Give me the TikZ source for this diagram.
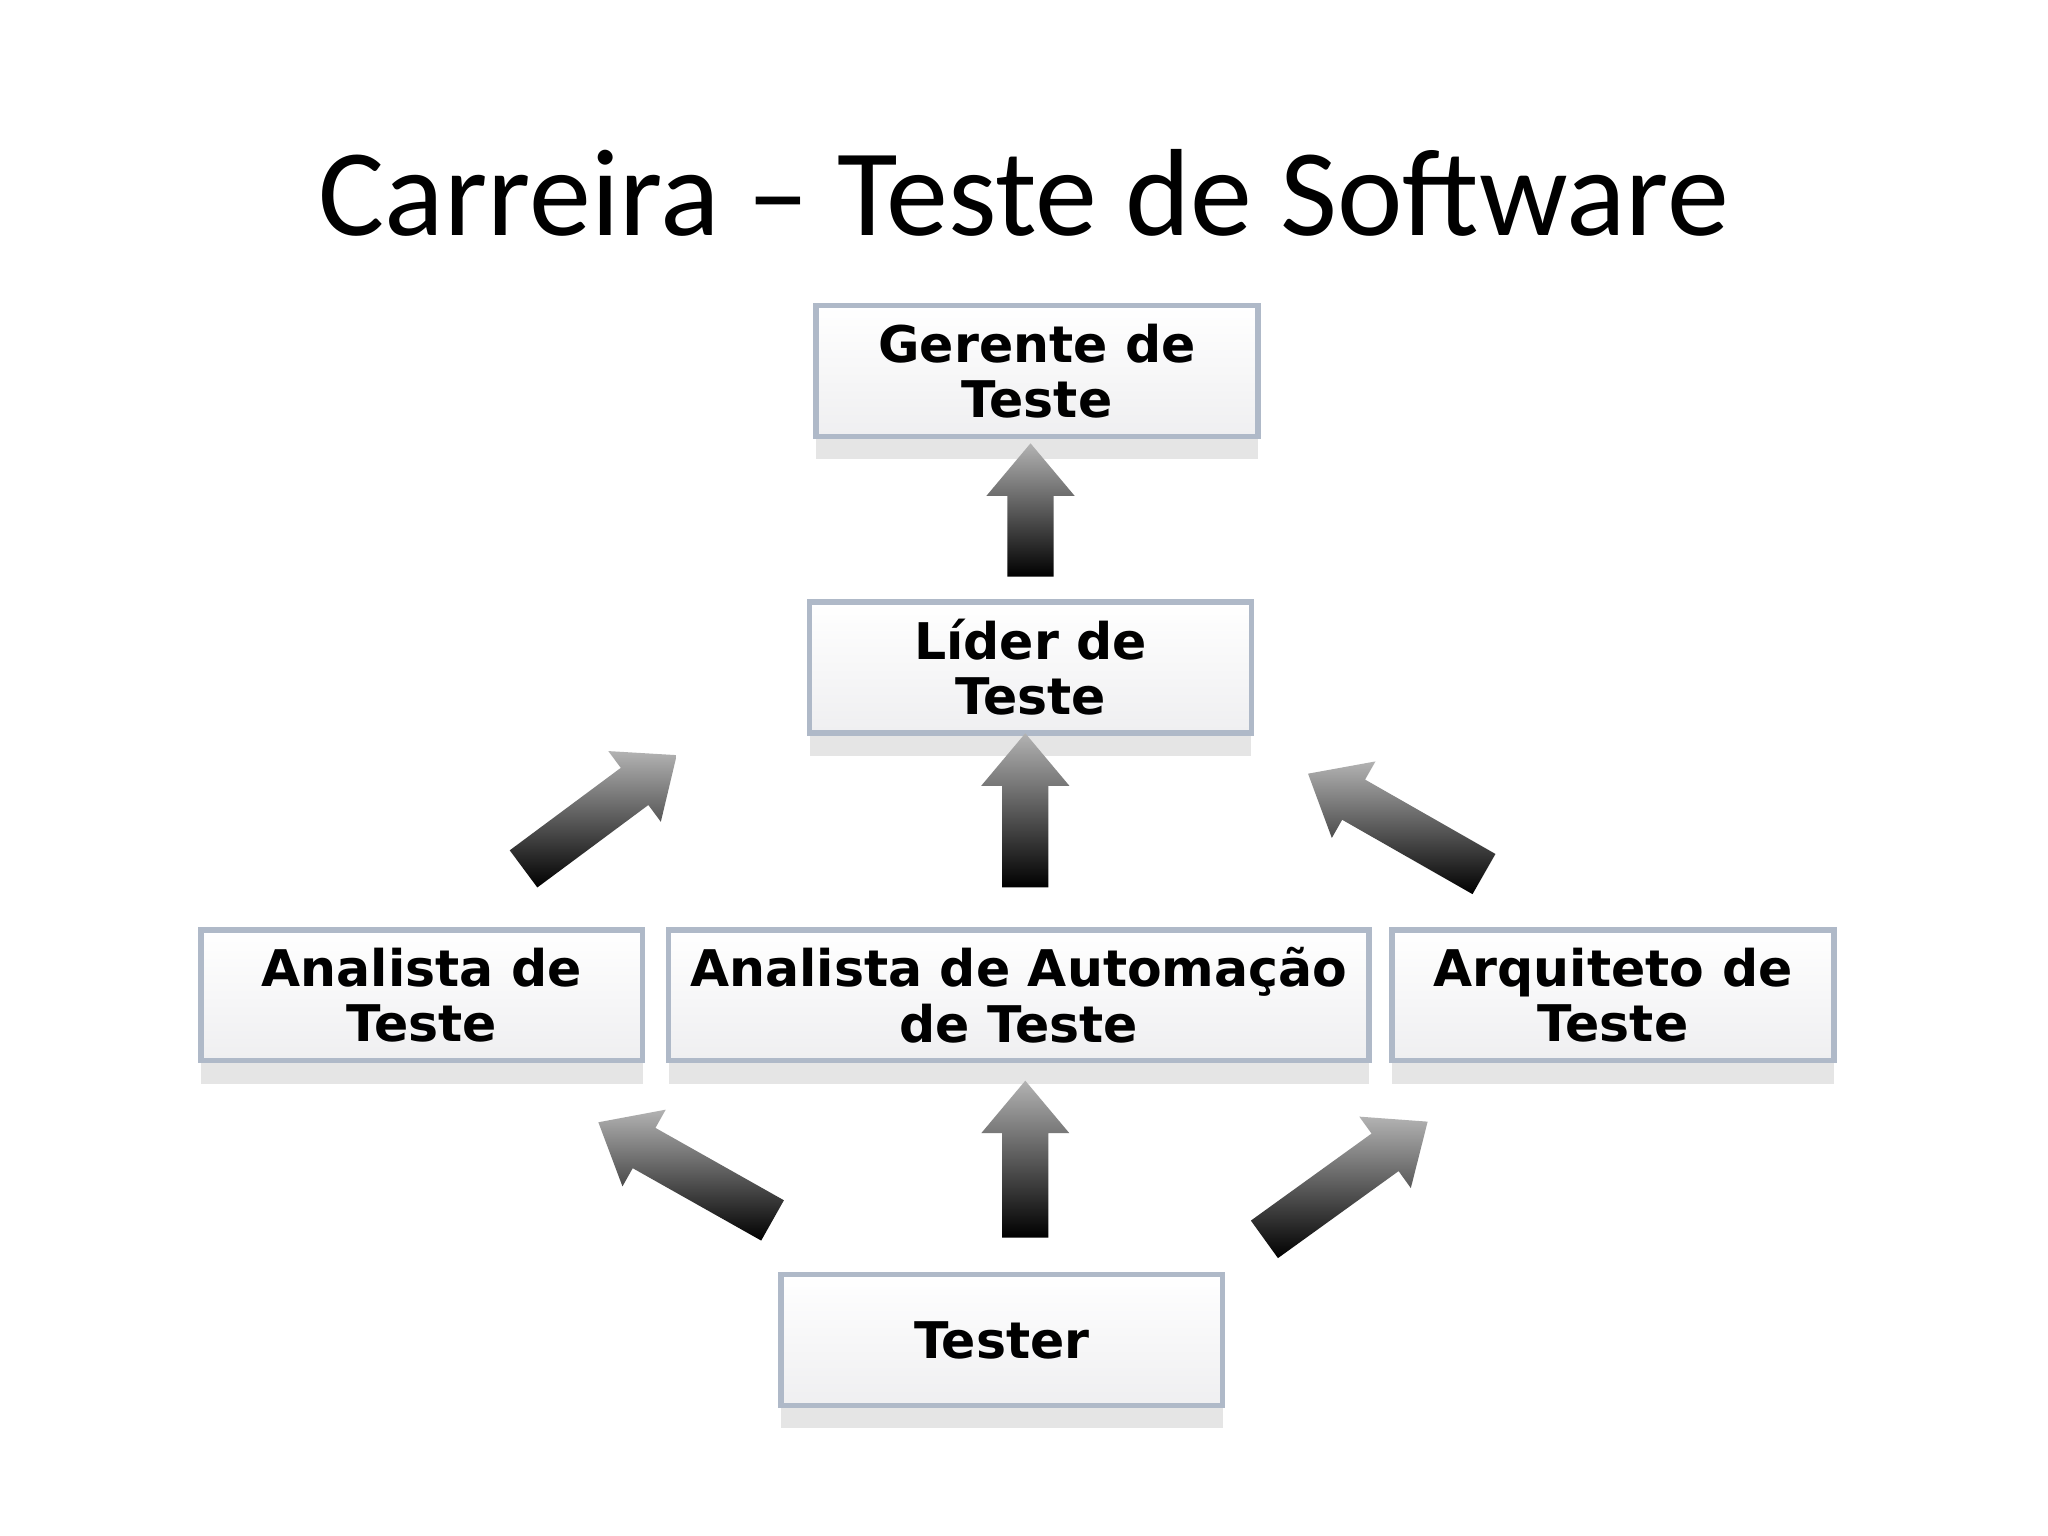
\documentclass[tikz,border=0pt]{standalone}
\usepackage{fontspec}
\setmainfont{DejaVu Sans}
\newfontfamily\titlefont{Carlito}
\usetikzlibrary{shapes.arrows,shadows}
\definecolor{bord}{RGB}{175,185,200}
\begin{document}
\begin{tikzpicture}[x=0.01cm,y=-0.01cm,
  box/.style={draw=bord,line width=1.2pt,top color=white,bottom color=blue!6!gray!12,
    minimum width=3.38cm,minimum height=1.0cm,align=center,font=\fontsize{11pt}{12pt}\selectfont\bfseries,
    drop shadow={shadow xshift=0pt,shadow yshift=-5pt,fill=gray!40,opacity=0.5}},
  blk/.style={single arrow,draw=none,inner sep=0pt,inner ysep=0.17cm,minimum width=0.66cm,
    single arrow head extend=0.16cm,single arrow tip angle=80,left color=gray!60,right color=black,
    shading angle=0}]
\useasboundingbox (0,0) rectangle (1568,1176);
\fill[white] (0,0) rectangle (1568,1176);
\node[font=\titlefont\fontsize{27pt}{30pt}\selectfont] (title) at (784,148) {Carreira – Teste de Software};
\node[box] (ger) at (794,284) {Gerente de\\Teste};
\node[box] (lid) at (789,511) {Líder de\\ Teste};
\node[box] (ana) at (323,762) {Analista de\\Teste};
\node[box,minimum width=5.36cm] (aut) at (780,762) {Analista de Automação\\de Teste};
\node[box] (arq) at (1235,762) {Arquiteto de\\Teste};
\node[box] (tes) at (767,1026) {Tester};
\node[blk,minimum height=1.02cm,rotate=90] (a1) at (789,401) {};
\node[blk,minimum height=1.18cm,rotate=90] (a2) at (785,631) {};
\node[blk,minimum height=1.46cm,rotate=36.6] (a3) at (451,628) {};
\node[blk,minimum height=1.55cm,rotate=150.3] (a4) at (1078,636) {};
\node[blk,minimum height=1.53cm,rotate=150.6] (a5) at (534,902) {};
\node[blk,minimum height=1.20cm,rotate=90] (a6) at (785,898) {};
\node[blk,minimum height=1.54cm,rotate=35.8] (a7) at (1022,910) {};
\end{tikzpicture}
\end{document}
